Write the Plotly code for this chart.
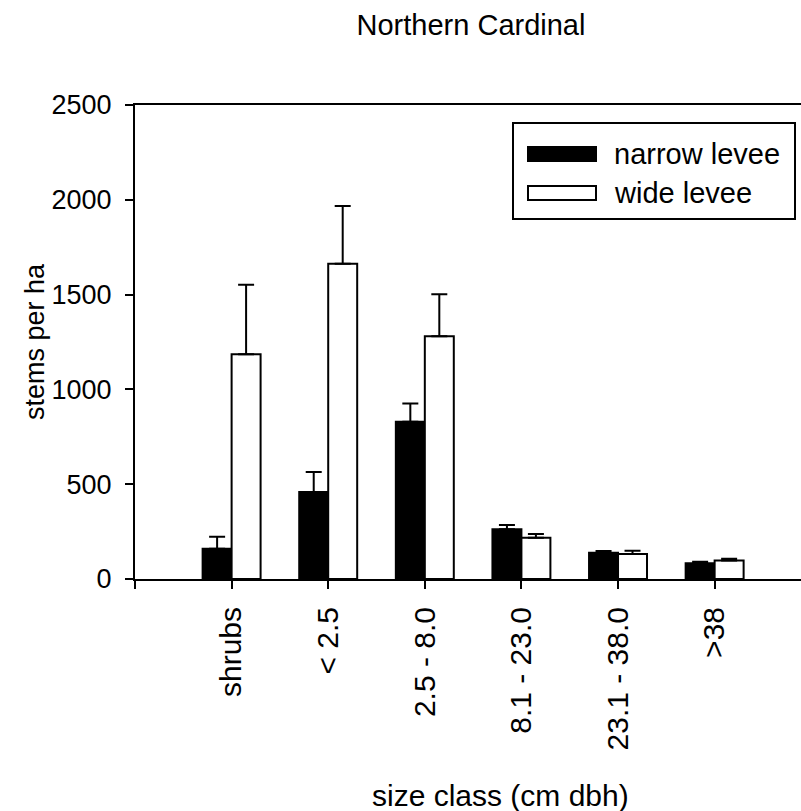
import plotly.graph_objects as go

# Stem density by size class, with standard-error caps
size_classes = ["shrubs", "< 2.5", "2.5 - 8.0", "8.1 - 23.0", "23.1 - 38.0", ">38"]
narrow_levee = [160, 459, 830, 262, 139, 83]
narrow_levee_se = [63, 105, 95, 23, 9, 8]
wide_levee = [1185, 1663, 1280, 218, 132, 97]
wide_levee_se = [367, 304, 222, 19, 17, 10]
y_ticks = [0, 500, 1000, 1500, 2000, 2500]

FONT = "Liberation Sans, Arial, sans-serif"
positions = list(range(len(size_classes)))

fig = go.Figure()
fig.add_trace(go.Bar(
    name="narrow levee", x=positions, y=narrow_levee,
    marker=dict(color="black", line=dict(color="black", width=2)),
    error_y=dict(type="data", array=narrow_levee_se, symmetric=False,
                 arrayminus=[0] * len(narrow_levee), color="black",
                 thickness=2, width=8),
))
fig.add_trace(go.Bar(
    name="wide levee", x=positions, y=wide_levee,
    marker=dict(color="white", line=dict(color="black", width=2)),
    error_y=dict(type="data", array=wide_levee_se, symmetric=False,
                 arrayminus=[0] * len(wide_levee), color="black",
                 thickness=2, width=8),
))

fig.update_layout(
    width=801, height=811,
    margin=dict(l=135, r=0, t=105, b=232),
    paper_bgcolor="white", plot_bgcolor="white",
    barmode="group", bargap=0.4, bargroupgap=0,
    showlegend=False,
    font=dict(family=FONT, size=26, color="black"),
    title=dict(text="Northern Cardinal", x=471 / 801, xref="container",
               xanchor="center", y=1 - 25 / 811, yanchor="middle",
               font=dict(family=FONT, size=29, color="black")),
)

fig.update_xaxes(
    range=[-1, 5.894],
    tickmode="array",
    tickvals=[-1] + positions,
    ticktext=[""] + size_classes,
    tickangle=-90,
    ticks="outside", ticklen=8, tickwidth=2, tickcolor="black",
    ticklabelstandoff=6,
    showline=True, linewidth=2, linecolor="black", mirror=True,
    showgrid=False, zeroline=False,
    tickfont=dict(family=FONT, size=30, color="black"),
)
fig.update_yaxes(
    range=[0, 2500],
    tickmode="array", tickvals=y_ticks,
    ticks="outside", ticklen=8, tickwidth=2, tickcolor="black",
    ticklabelstandoff=8,
    showline=True, linewidth=2, linecolor="black",
    showgrid=False, zeroline=False,
    tickfont=dict(family=FONT, size=27, color="black"),
)

# Axis titles
fig.add_annotation(text="stems per ha", xref="paper", yref="paper",
                   x=-100 / 666, y=0.5, xanchor="center", yanchor="middle",
                   textangle=-90, showarrow=False,
                   font=dict(family=FONT, size=27, color="black"))
fig.add_annotation(text="size class (cm dbh)", xref="paper", yref="paper",
                   x=(500 - 135) / 666, y=(579 - 795) / 474,
                   xanchor="center", yanchor="middle", showarrow=False,
                   font=dict(family=FONT, size=30, color="black"))

# Legend box drawn in pixel-equivalent paper coordinates
def px(xp):
    return (xp - 135) / 666

def py(yp):
    return (579 - yp) / 474

fig.add_shape(type="rect", xref="paper", yref="paper",
              x0=px(513), x1=px(795), y0=py(219), y1=py(123),
              line=dict(color="black", width=2), fillcolor="white")
legend_items = [("narrow levee", "black", 154), ("wide levee", "white", 193)]
for label, fill, yc in legend_items:
    fig.add_shape(type="rect", xref="paper", yref="paper",
                  x0=px(528), x1=px(596), y0=py(yc + 7), y1=py(yc - 7),
                  line=dict(color="black", width=2), fillcolor=fill)
    fig.add_annotation(text=label, xref="paper", yref="paper",
                       x=px(612), y=py(yc), xanchor="left", yanchor="middle",
                       showarrow=False,
                       font=dict(family=FONT, size=29, color="black"))

fig.write_html("out.html")
